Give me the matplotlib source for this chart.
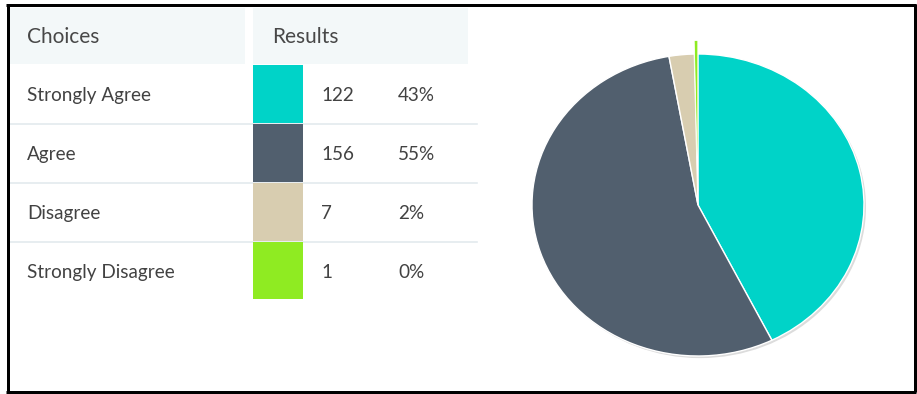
import matplotlib.pyplot as plt
from matplotlib.patches import Rectangle, Ellipse

# ── data ────────────────────────────────────────────────────────────────
choices = ["Strongly Agree", "Agree", "Disagree", "Strongly Disagree"]
counts = [122, 156, 7, 1]
colors = ["#00d3c8", "#515f6e", "#d8cdb0", "#8feb22"]
header = ["Choices", "Results"]

total = sum(counts)
pcts = [f"{round(100 * c / total)}%" for c in counts]

W, H = 917, 394
plt.rcParams["font.family"] = ["Lato", "DejaVu Sans"]

fig = plt.figure(figsize=(W / 100, H / 100), dpi=100)
fig.patch.set_facecolor("white")

# table drawn in pixel coordinates
tab = fig.add_axes([0, 0, 1, 1])
tab.set_xlim(0, W)
tab.set_ylim(H, 0)
tab.axis("off")

TEXT = "#424242"
HEAD_BG = "#f3f8f9"
LINE = "#e3eaee"
ROW_H = 59
ROW_TOP = 65
FS_ROW = 13.6
FS_HEAD = 15

# header cells
tab.add_patch(Rectangle((10, 8), 235, 56, fc=HEAD_BG, ec="none"))
tab.add_patch(Rectangle((253, 8), 215, 56, fc=HEAD_BG, ec="none"))
tab.text(27, 37, header[0], fontsize=FS_HEAD, color="#484848", va="center")
tab.text(272, 37, header[1], fontsize=FS_HEAD, color="#484848", va="center")

for i, (name, n, p, col) in enumerate(zip(choices, counts, pcts, colors)):
    y0 = ROW_TOP + i * ROW_H
    yc = y0 + ROW_H / 2 + 1
    tab.add_patch(Rectangle((253, y0), 50, ROW_H - 1 if i < 3 else ROW_H - 2,
                            fc=col, ec="none"))
    tab.text(27, yc, name, fontsize=FS_ROW, color=TEXT, va="center")
    tab.text(321, yc, str(n), fontsize=FS_ROW, color=TEXT, va="center")
    tab.text(398, yc, p, fontsize=FS_ROW, color=TEXT, va="center")
    if i < 3:
        tab.plot([10, 477], [y0 + ROW_H - 0.5] * 2, color=LINE, lw=1.2, zorder=0)

# screenshot frame
FRAME = 3 * 72 / 100
tab.plot([6, 916], [5, 5], color="black", lw=FRAME, solid_capstyle="butt")
tab.plot([7.5, 7.5], [4, 392], color="black", lw=FRAME, solid_capstyle="butt")
tab.plot([6, 916], [391.5, 391.5], color="black", lw=FRAME, solid_capstyle="butt")
tab.plot([914.5, 914.5], [4, 392], color="black", lw=FRAME, solid_capstyle="butt")

# pie (slightly squashed, as in the screenshot)
cx, cy, rx, ry = 698, 205, 166, 151
lim = 1.25
pie = fig.add_axes([(cx - rx * lim) / W, (H - cy - ry * lim) / H,
                    2 * rx * lim / W, 2 * ry * lim / H])
pie.add_patch(Ellipse((0.012, -0.014), 2.0, 2.0, fc="#dcdcdc", ec="none", zorder=0))
wedges, _ = pie.pie(counts, colors=colors, startangle=90, counterclock=False,
                    explode=[0, 0, 0, 0.09],
                    wedgeprops=dict(edgecolor="white", linewidth=1.0))
for w in wedges:
    w.set_zorder(2)
wedges[3].set_linewidth(0.6)
pie.set_aspect("auto")
pie.set_xlim(-lim, lim)
pie.set_ylim(-lim, lim)
pie.axis("off")

fig.savefig("out.png", dpi=100, facecolor="white")
